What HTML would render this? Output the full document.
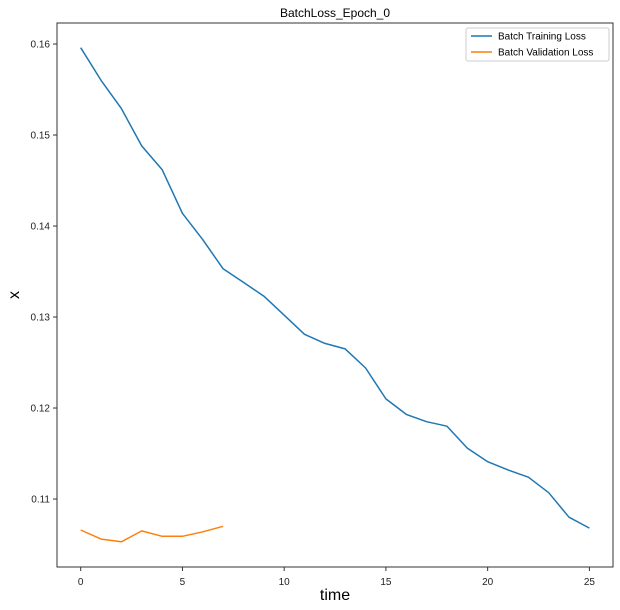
<!DOCTYPE html>
<html><head><meta charset="utf-8"><style>
body{margin:0;background:#fff;}
svg{display:block;font-family:"Liberation Sans","DejaVu Sans",sans-serif;}
</style></head><body>
<svg id="chart" width="620" height="610"></svg>
<script>
const xTicks=[0,5,10,15,20,25];
const yTicks=[0.11,0.12,0.13,0.14,0.15,0.16];
const trainLoss=[0.1596,0.1560,0.1529,0.1488,0.1462,0.1414,0.1385,0.1353,0.1338,0.1323,0.1302,0.1281,0.1271,0.1265,0.1244,0.1210,0.1193,0.1185,0.1180,0.1156,0.1141,0.1132,0.1124,0.1107,0.1080,0.1068];
const valLoss=[0.1066,0.1056,0.1053,0.1065,0.1059,0.1059,0.1064,0.1070];
const L=57,R=613,T=23,B=567;
const xMin=-1.165,xMax=26.16,yMin=0.10253,yMax=0.16231;
const sx=v=>L+(v-xMin)/(xMax-xMin)*(R-L);
const sy=v=>B-(v-yMin)/(yMax-yMin)*(B-T);
const svg=document.getElementById('chart');
const NS='http://www.w3.org/2000/svg';
function mk(t,a,txt){const e=document.createElementNS(NS,t);for(const k in a)e.setAttribute(k,a[k]);if(txt!==undefined)e.textContent=txt;svg.appendChild(e);return e;}
let e;
e=mk('rect',{x:L,y:T,width:R-L,height:B-T,fill:'#fff',stroke:'#333','stroke-width':1});


xTicks.forEach(v=>{
 e=mk('line',{x1:sx(v),x2:sx(v),y1:B,y2:B+4,stroke:'#333'});
 
 
 e=mk('text',{x:sx(v),y:B+18,'text-anchor':'middle','font-size':10,fill:'#222'},String(v));
 
 
});
yTicks.forEach(v=>{
 e=mk('line',{x1:L-4,x2:L,y1:sy(v),y2:sy(v),stroke:'#333'});
 
 
 e=mk('text',{x:L-7,y:sy(v)+3.5,'text-anchor':'end','font-size':10,fill:'#222'},v.toFixed(2));
 
 
});
function line(arr,color,name){
 const p=arr.map((v,i)=>sx(i).toFixed(1)+','+sy(v).toFixed(1)).join(' ');
 const el=mk('polyline',{points:p,fill:'none',stroke:color,'stroke-width':1.5,'stroke-linejoin':'round'});
 
 
}
line(trainLoss,'#1f77b4','training-loss-line');
line(valLoss,'#ff7f0e','validation-loss-line');
e=mk('text',{x:(L+R)/2,y:17,'text-anchor':'middle','font-size':12,fill:'#000'},'BatchLoss_Epoch_0');


e=mk('text',{x:(L+R)/2,y:600,'text-anchor':'middle','font-size':16,fill:'#000'},'time');


e=mk('text',{x:19,y:295,'text-anchor':'middle','font-size':16,fill:'#000',transform:'rotate(-90 19 295)'},'x');


e=mk('rect',{x:466,y:28,width:143,height:33,rx:2,fill:'#fff',stroke:'#ccc'});


[['Batch Training Loss','#1f77b4'],['Batch Validation Loss','#ff7f0e']].forEach((d,i)=>{
 const y=36+i*16;
 e=mk('line',{x1:471,x2:492,y1:y,y2:y,stroke:d[1],'stroke-width':1.5});
 
 
 e=mk('text',{x:498,y:y+3.5,'font-size':10,fill:'#000'},d[0]);
 
 
});
</script>
</body></html>
